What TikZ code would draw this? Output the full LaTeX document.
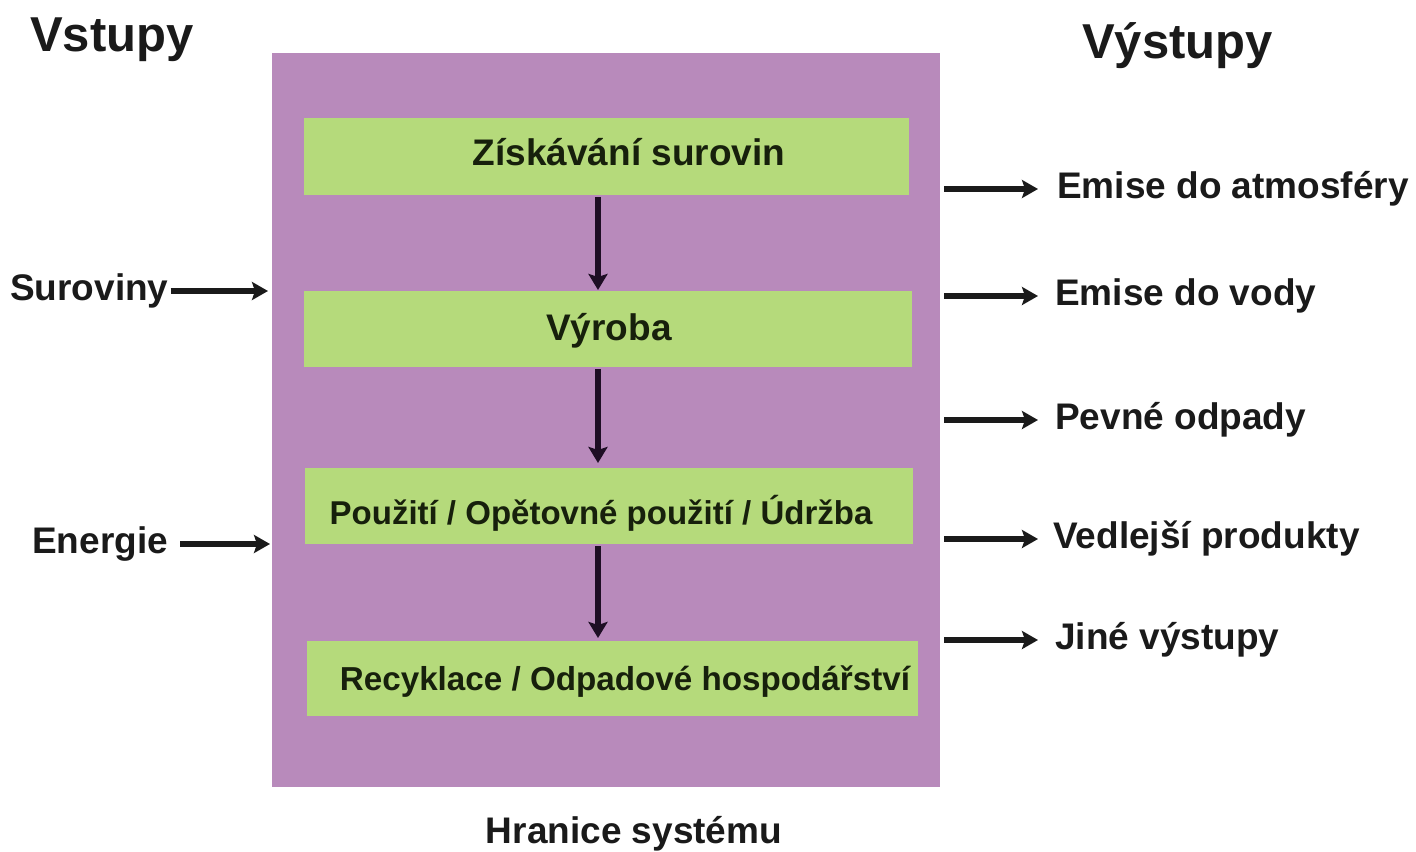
\documentclass[tikz,border=0pt]{standalone}
\usepackage{fontspec}
\setmainfont{Liberation Sans}
\usetikzlibrary{arrows.meta}
\definecolor{sysfill}{HTML}{B88ABB}
\definecolor{stagefill}{HTML}{B5DA7B}
\definecolor{ink}{HTML}{1A1A1A}
\definecolor{stageink}{HTML}{17200C}
\definecolor{stemink}{HTML}{1E0E24}
\tikzset{
  label37/.style={inner sep=0pt, text=ink, font=\fontsize{37bp}{44bp}\selectfont\bfseries,
                  text height=27bp, text depth=8bp},
  heading/.style={inner sep=0pt, text=ink, font=\fontsize{49bp}{58bp}\selectfont\bfseries},
  stagebox/.style={draw=none, fill=stagefill, inner sep=0pt, anchor=north west},
  stagetext/.style={inner sep=0pt, text=stageink, anchor=base},
  flow/.style={line width=5.5bp, draw=ink, -{Stealth[length=16bp,width=18bp,inset=3bp]}},
  inflow/.style={line width=5.5bp, draw=stemink, -{Stealth[length=16bp,width=19bp,inset=3bp]}},
}
\begin{document}
\begin{tikzpicture}[x=1bp,y=-1bp]
\useasboundingbox (0,0) rectangle (1416,851);

% system boundary
\node[fill=sysfill, inner sep=0pt, anchor=north west,
      minimum width=668bp, minimum height=734bp] (sys) at (272,53) {};

% life-cycle stages
\node[stagebox, minimum width=605bp, minimum height=77bp] (b1) at (304,118) {};
\node[stagebox, minimum width=608bp, minimum height=76bp] (b2) at (304,291) {};
\node[stagebox, minimum width=608bp, minimum height=76bp] (b3) at (305,468) {};
\node[stagebox, minimum width=611bp, minimum height=75bp] (b4) at (307,641) {};

\node[stagetext, font=\fontsize{37bp}{44bp}\selectfont\bfseries] (t1) at (629,165) {Získávání surovin};
\node[stagetext, font=\fontsize{37bp}{44bp}\selectfont\bfseries] (t2) at (609,340) {Výroba};
\node[stagetext, font=\fontsize{33bp}{40bp}\selectfont\bfseries] (t3) at (601,524) {Použití / Opětovné použití / Údržba};
\node[stagetext, font=\fontsize{33.2bp}{40bp}\selectfont\bfseries] (t4) at (625,690) {Recyklace / Odpadové hospodářství};

% vertical flow between stages
\coordinate (axis) at (598,0);
\draw[inflow, shorten <=2bp, shorten >=1bp] (b1.south -| axis) -- (b2.north -| axis);
\draw[inflow, shorten <=2bp, shorten >=5bp] (b2.south -| axis) -- (b3.north -| axis);
\draw[inflow, shorten <=2bp, shorten >=3bp] (b3.south -| axis) -- (b4.north -| axis);

% headings
\node[heading, anchor=base west] (vin) at (30,51) {Vstupy};
\node[heading, anchor=base west] (vout) at (1082,58) {Výstupy};
\node[label37, anchor=base] (bound) at (634,843) {Hranice systému};

% inputs
\node[label37, anchor=west] (in1) at (10,291) {Suroviny};
\node[label37, anchor=west] (in2) at (32,544) {Energie};
\draw[flow, shorten <=2bp, shorten >=4bp] (in1.east) -- (in1.east -| sys.west);
\draw[flow, shorten <=12bp, shorten >=2bp] (in2.east) -- (in2.east -| sys.west);

% outputs
\node[label37, anchor=west] (o1) at (1057,189) {Emise do atmosféry};
\node[label37, anchor=west] (o2) at (1055,296) {Emise do vody};
\node[label37, anchor=west] (o3) at (1055,420) {Pevné odpady};
\node[label37, anchor=west] (o4) at (1053,539) {Vedlejší produkty};
\node[label37, anchor=west] (o5) at (1055,640) {Jiné výstupy};
\foreach \o/\g in {o1/19, o2/17, o3/17, o4/15, o5/17}{
  \draw[flow, shorten <=4bp, shorten >=\g bp] (\o.west -| sys.east) -- (\o.west);
}
\end{tikzpicture}
\end{document}
